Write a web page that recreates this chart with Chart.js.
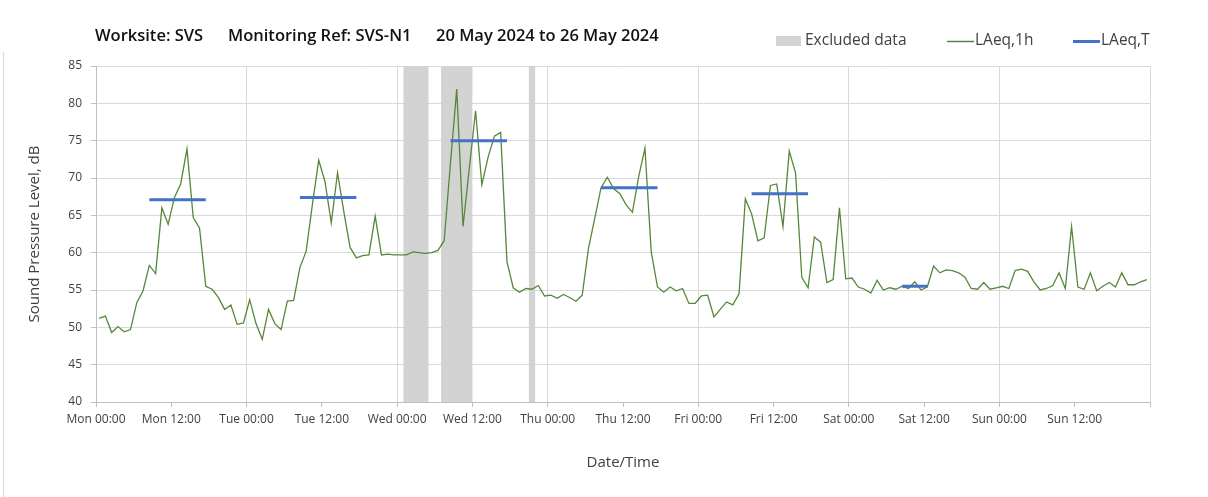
<!DOCTYPE html>
<html>
<head>
<meta charset="utf-8">
<script src="https://cdn.jsdelivr.net/npm/chart.js@4.4.1/dist/chart.umd.min.js"></script>
<style>
  html, body { margin: 0; padding: 0; background: #ffffff; }
  #wrap { position: relative; width: 1208px; height: 497px; }
</style>
</head>
<body>
<div id="wrap"><canvas id="chart" width="1208" height="497"></canvas></div>
<script>
// ---- Data ----
const chartTitleParts = ['Worksite: SVS', 'Monitoring Ref: SVS-N1', '20 May 2024 to 26 May 2024'];
const dayNames = ['Mon', 'Tue', 'Wed', 'Thu', 'Fri', 'Sat', 'Sun'];
const tickTimes = ['00:00', '12:00'];

// Hourly LAeq,1h values, Mon 00:00 .. Sun 23:00 (one value per hour)
const laeq1h = [
  51.2, 51.5, 49.3, 50.1, 49.4, 49.7, 53.3, 54.9, 58.3, 57.2, 66.0, 63.8,
  67.4, 69.2, 73.9, 64.7, 63.3, 55.5, 55.1, 54.0, 52.4, 53.0, 50.4, 50.6,
  53.7, 50.5, 48.4, 52.4, 50.5, 49.7, 53.5, 53.6, 58.0, 60.2, 66.5, 72.4,
  69.5, 64.0, 70.7, 65.5, 60.7, 59.3, 59.6, 59.7, 64.9, 59.7, 59.8, 59.7,
  59.7, 59.7, 60.1, 60.0, 59.9, 60.0, 60.3, 61.6, 72.0, 81.9, 63.5, 71.3,
  79.0, 69.1, 72.8, 75.6, 76.1, 58.8, 55.3, 54.7, 55.2, 55.1, 55.6, 54.2,
  54.3, 53.9, 54.4, 54.0, 53.5, 54.3, 60.6, 64.6, 68.7, 70.1, 68.6, 67.9,
  66.4, 65.4, 70.2, 74.0, 60.1, 55.4, 54.7, 55.4, 54.9, 55.2, 53.2, 53.2,
  54.2, 54.3, 51.4, 52.4, 53.4, 53.0, 54.5, 67.2, 65.2, 61.6, 62.0, 69.0,
  69.2, 63.5, 73.6, 70.7, 56.7, 55.3, 62.1, 61.4, 56.0, 56.4, 66.0, 56.5,
  56.6, 55.4, 55.1, 54.6, 56.3, 55.0, 55.3, 55.1, 55.5, 55.2, 56.1, 55.0,
  55.4, 58.2, 57.3, 57.7, 57.6, 57.3, 56.7, 55.2, 55.1, 56.0, 55.1, 55.3,
  55.5, 55.2, 57.6, 57.8, 57.5, 56.1, 55.0, 55.2, 55.6, 57.3, 55.2, 63.5,
  55.4, 55.1, 57.3, 54.9, 55.5, 56.0, 55.4, 57.3, 55.7, 55.7, 56.1, 56.4
];

// LAeq,T period values and their first / last hour (hours since Mon 00:00)
const laeqT = [67.1, 67.4, 75.0, 68.7, 67.9, 55.5];
const laeqTFirstHour = [8, 32, 56, 80, 104, 128];
const laeqTLastHour = [17, 41, 65, 89, 113, 132];

// Excluded data periods (hours since Mon 00:00)
const excludedStart = [49, 55, 69];
const excludedEnd = [53, 60, 70];

// ---- Build library data ----
const hourlyPoints = laeq1h.map((v, i) => ({ x: i + 0.5, y: v }));
const periodPoints = [];
laeqT.forEach((v, i) => {
  periodPoints.push({ x: laeqTFirstHour[i] + 0.5, y: v });
  periodPoints.push({ x: laeqTLastHour[i] + 0.5, y: v });
  periodPoints.push({ x: laeqTLastHour[i] + 1, y: null });
});

const FONT = '"Open Sans", "DejaVu Sans", sans-serif';
const GREEN = '#56873a';
const BLUE = '#4472c4';
const SHADE = '#d3d3d3';

const excludedPlugin = {
  id: 'excluded',
  beforeDatasetsDraw(chart) {
    const { ctx, chartArea, scales } = chart;
    ctx.save();
    ctx.fillStyle = SHADE;
    excludedStart.forEach((s, i) => {
      const x0 = scales.x.getPixelForValue(s);
      const x1 = scales.x.getPixelForValue(excludedEnd[i]);
      ctx.fillRect(x0, chartArea.top, x1 - x0, chartArea.bottom - chartArea.top);
    });
    ctx.restore();
  }
};

const headerPlugin = {
  id: 'header',
  afterDraw(chart) {
    const { ctx, chartArea } = chart;
    ctx.save();
    // outer frame line on the left
    ctx.strokeStyle = '#d9d9d9';
    ctx.lineWidth = 1;
    ctx.beginPath();
    ctx.moveTo(3.5, 52);
    ctx.lineTo(3.5, 497);
    ctx.stroke();

    // title
    ctx.fillStyle = '#111111';
    ctx.textBaseline = 'middle';
    ctx.textAlign = 'left';
    ctx.font = '600 16.5px ' + FONT;
    const tl = chartArea.left - 1;
    const titleOffsets = [0, 133, 341];
    chartTitleParts.forEach((t, i) => ctx.fillText(t, tl + titleOffsets[i], 36));

    // legend
    const ly = 41;
    ctx.font = '15.5px ' + FONT;
    // excluded box
    ctx.fillStyle = SHADE;
    ctx.fillRect(776, 36, 25, 10);
    ctx.fillStyle = '#404040';
    ctx.fillText('Excluded data', 805, ly);
    // LAeq,1h
    ctx.strokeStyle = GREEN;
    ctx.lineWidth = 1.5;
    ctx.beginPath(); ctx.moveTo(947, ly + 0.5); ctx.lineTo(974, ly + 0.5); ctx.stroke();
    ctx.fillText(chart.data.datasets[0].label, 975, ly);
    // LAeq,T
    ctx.strokeStyle = BLUE;
    ctx.lineWidth = 3;
    ctx.beginPath(); ctx.moveTo(1073, ly + 0.5); ctx.lineTo(1100, ly + 0.5); ctx.stroke();
    ctx.fillText(chart.data.datasets[1].label, 1101, ly);
    ctx.restore();
  }
};

new Chart(document.getElementById('chart'), {
  type: 'line',
  data: {
    datasets: [
      {
        label: 'LAeq,1h',
        data: hourlyPoints,
        borderColor: GREEN,
        borderWidth: 1.3,
        pointRadius: 0,
        tension: 0,
        order: 2
      },
      {
        label: 'LAeq,T',
        data: periodPoints,
        borderColor: BLUE,
        borderWidth: 3,
        pointRadius: 0,
        spanGaps: false,
        borderCapStyle: 'butt',
        order: 1
      }
    ]
  },
  options: {
    responsive: false,
    animation: false,
    events: [],
    layout: { padding: { top: 66, right: 58, bottom: 0, left: 0 } },
    plugins: {
      legend: { display: false },
      title: { display: false },
      tooltip: { enabled: false }
    },
    scales: {
      x: {
        type: 'linear',
        min: 0,
        max: 168,
        afterFit(scale) { scale.height = 95; },
        afterBuildTicks(scale) {
          const t = [];
          for (let v = 0; v <= 168; v += 12) t.push({ value: v });
          scale.ticks = t;
        },
        ticks: {
          autoSkip: false,
          maxRotation: 0,
          minRotation: 0,
          padding: 5,
          color: '#404040',
          font: { family: FONT, size: 12 },
          callback(v) {
            if (v >= 168) return '';
            return dayNames[Math.floor(v / 24)] + ' ' + tickTimes[(v % 24) / 12];
          }
        },
        grid: {
          color(ctx) {
            const v = ctx.tick ? ctx.tick.value : 0;
            return (v % 24 === 0 && v > 0) ? '#d9d9d9' : 'rgba(0,0,0,0)';
          },
          tickColor: '#bfbfbf',
          tickLength: 5,
          lineWidth: 1
        },
        border: { color: '#bfbfbf', width: 1 },
        title: {
          display: true,
          text: 'Date/Time',
          color: '#404040',
          font: { family: FONT, size: 15 },
          padding: { top: 0, bottom: 25 }
        }
      },
      y: {
        min: 40,
        max: 85,
        afterFit(scale) { scale.width = 96; },
        ticks: {
          stepSize: 5,
          padding: 9,
          color: '#404040',
          font: { family: FONT, size: 12 }
        },
        grid: {
          color: '#d9d9d9',
          tickColor: '#bfbfbf',
          tickLength: 5,
          lineWidth: 1
        },
        border: { color: '#bfbfbf', width: 1 },
        title: {
          display: true,
          text: 'Sound Pressure Level, dB',
          color: '#404040',
          font: { family: FONT, size: 15 },
          padding: { top: 26, bottom: 0 }
        }
      }
    }
  },
  plugins: [excludedPlugin, headerPlugin]
});
</script>
</body>
</html>
